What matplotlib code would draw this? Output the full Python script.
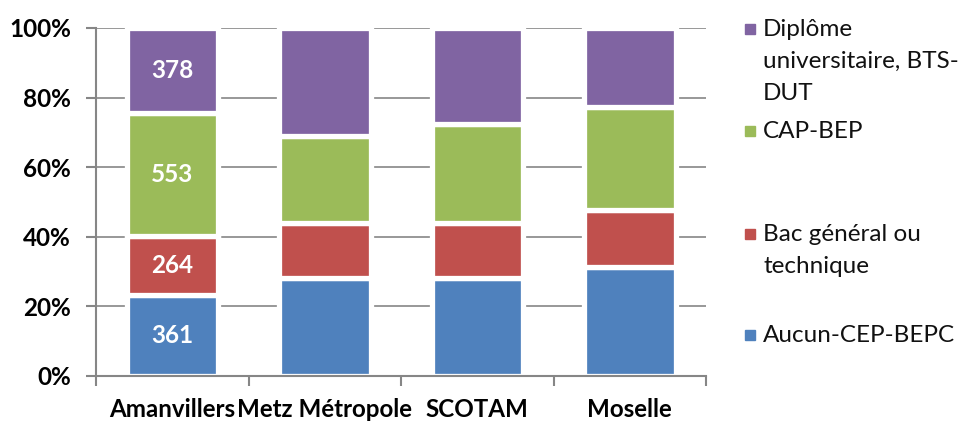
import matplotlib.pyplot as plt
from matplotlib.patches import Rectangle
import numpy as np

# categories and shares (%)
categories = ["Amanvillers", "Metz Métropole", "SCOTAM", "Moselle"]
series = ["Aucun-CEP-BEPC", "Bac général ou\ntechnique", "CAP-BEP",
          "Diplôme\nuniversitaire, BTS-\nDUT"]
colors = ["#4F81BD", "#C0504D", "#9BBB59", "#8064A2"]

# Amanvillers counts (labels), other zones estimated shares
amanvillers_counts = [361, 264, 553, 378]
aucun = [361 / 1556 * 100, 28.2, 28.3, 31.3]
bac = [264 / 1556 * 100, 15.9, 15.8, 16.3]
cap = [553 / 1556 * 100, 25.0, 28.4, 29.6]
diplome = [378 / 1556 * 100, 30.9, 27.5, 22.8]
values = [aucun, bac, cap, diplome]

plt.rcParams['font.family'] = ['Lato', 'DejaVu Sans']

fig = plt.figure(figsize=(9.61, 4.21), dpi=100)
ax = fig.add_axes([0.0999, 0.1069, 0.6348, 0.8266])

x = np.arange(len(categories))
bottom = np.zeros(len(categories))
for vals, col in zip(values, colors):
    vals = np.array(vals)
    ax.bar(x, vals, bottom=bottom, width=0.6, color=col, edgecolor="white",
           linewidth=3.8, zorder=2)
    bottom += vals

# labels on Amanvillers bar
b = 0
for cnt, v in zip(amanvillers_counts, [s[0] for s in values]):
    ax.text(0, b + v / 2, str(cnt), ha="center", va="center", color="white",
            fontsize=17.5, fontweight="bold", zorder=3)
    b += v

ax.set_xlim(-0.5, len(categories) - 0.5)
ax.set_ylim(0, 100)
ax.set_yticks(np.arange(0, 101, 20))
ax.set_yticklabels([f"{v}%" for v in range(0, 101, 20)], fontsize=17.5, fontweight="bold")
ax.yaxis.grid(True, color="#868686", linewidth=1.2, zorder=0)
ax.set_axisbelow(True)

ax.set_xticks(x)
ax.set_xticklabels(categories, fontsize=17.4, fontweight="bold")
ax.tick_params(axis="x", length=0, pad=16)
ax.set_xticks(np.arange(-0.5, len(categories)), minor=True)
ax.tick_params(axis="x", which="minor", length=7, width=1.5, color="#868686")
ax.tick_params(axis="y", length=7, width=1.5, color="#868686", pad=11)

for side in ["top", "right"]:
    ax.spines[side].set_visible(False)
for side in ["left", "bottom"]:
    ax.spines[side].set_color("#868686")
    ax.spines[side].set_linewidth(1.5)

# legend, top entry first, evenly spaced, one text per line
legend_y = [29, 131, 234, 335]
for i, (lab, col) in enumerate(zip(series[::-1], colors[::-1])):
    ypx = legend_y[i]
    fig.patches.append(Rectangle((745 / 961, 1 - (ypx + 5) / 421), 10 / 961, 10 / 421,
                                 transform=fig.transFigure, color=col, figure=fig))
    for k, line in enumerate(lab.split("\n")):
        fig.text(763 / 961, 1 - (ypx + 7 + 32 * k) / 421, line, ha="left",
                 va="baseline", fontsize=17.5, color="#111111")

fig.savefig("out.png", dpi=100)
